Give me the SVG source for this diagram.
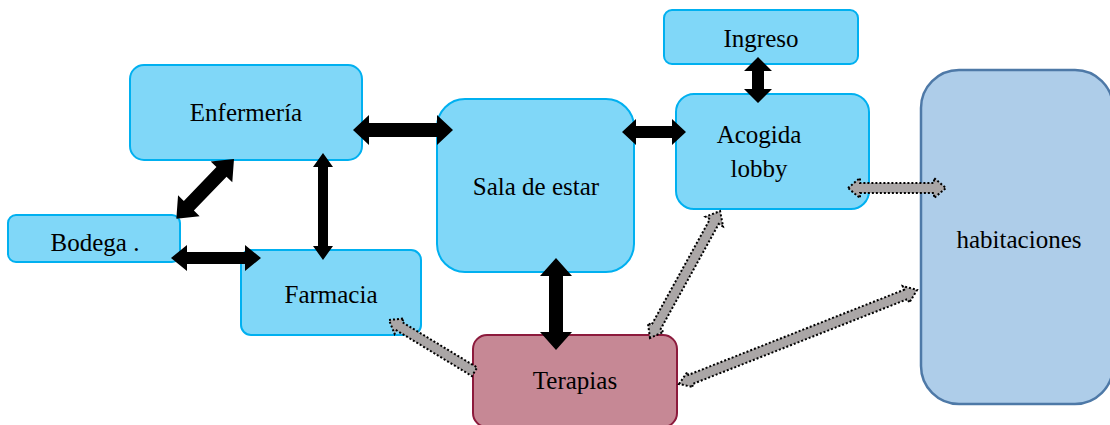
<svg xmlns="http://www.w3.org/2000/svg" width="1110" height="425" viewBox="0 0 1110 425">
<style>
.blue{fill:#80d7f8;stroke:#00b0f0;stroke-width:2}
.ter{fill:#c68895;stroke:#8c1a3c;stroke-width:2}
.hab{fill:#aecde9;stroke:#4e79a7;stroke-width:2.5}
.t{font-family:"Liberation Serif",serif;font-size:25px;fill:#000;text-anchor:middle}
.blk{fill:#000}
.gry{fill:#aaa6a6;stroke:#000;stroke-width:2;stroke-dasharray:2 2}
</style>
<rect width="1110" height="425" fill="#fff"/>
<g id="ingreso"><rect class="blue" x="664" y="10" width="194" height="54" rx="8"/><text class="t" x="761" y="47">Ingreso</text></g>
<g id="enfermeria"><rect class="blue" x="130" y="65" width="232" height="95" rx="14"/><text class="t" x="246" y="121">Enfermería</text></g>
<g id="sala"><rect class="blue" x="437" y="99" width="197" height="173" rx="28"/><text class="t" x="536" y="195">Sala de estar</text></g>
<g id="acogida"><rect class="blue" x="676" y="94" width="193" height="115" rx="18"/><text class="t" x="759" y="143">Acogida</text><text class="t" x="759" y="177">lobby</text></g>
<g id="bodega"><rect class="blue" x="8" y="215" width="172" height="47" rx="8"/><text class="t" x="95" y="251">Bodega .</text></g>
<g id="farmacia"><rect class="blue" x="241" y="250" width="180" height="85" rx="10"/><text class="t" x="331" y="303">Farmacia</text></g>
<g id="terapias"><rect class="ter" x="473" y="335" width="204" height="92" rx="14"/><text class="t" x="575" y="389">Terapias</text></g>
<g id="habitaciones"><rect class="hab" x="921" y="70" width="192" height="334" rx="38"/><text class="t" x="1019" y="248">habitaciones</text></g>
<g id="connectors">
<polygon class="blk" transform="translate(353,130)" points="0,0 16,-15 16,-7 84,-7 84,-15 100,0 84,15 84,7 16,7 16,15"/>
<polygon class="blk" transform="translate(622,132)" points="0,0 14,-13 14,-6 50,-6 50,-13 64,0 50,13 50,6 14,6 14,13"/>
<polygon class="blk" transform="translate(758,57) rotate(90)" points="0,0 14,-14 14,-6 32,-6 32,-14 46,0 32,14 32,6 14,6 14,14"/>
<polygon class="blk" transform="translate(323,153) rotate(90)" points="0,0 14,-10 14,-5 93,-5 93,-10 107,0 93,10 93,5 14,5 14,10"/>
<polygon class="blk" transform="translate(234,159) rotate(134)" points="0,0 18,-15 18,-7 65,-7 65,-15 83,0 65,15 65,7 18,7 18,15"/>
<polygon class="blk" transform="translate(171,258)" points="0,0 16,-13 16,-6 74,-6 74,-13 90,0 74,13 74,6 16,6 16,13"/>
<polygon class="blk" transform="translate(556,258) rotate(90)" points="0,0 18,-16 18,-7 74,-7 74,-16 92,0 74,16 74,7 18,7 18,16"/>
<polygon class="gry" transform="translate(848,188)" points="0,0 12,-10 12,-5 86,-5 86,-10 98,0 86,10 86,5 12,5 12,10"/>
<polygon class="gry" transform="translate(389,320) rotate(31.2)" points="0,0 12,-9 12,-5 100,-5 100,5 12,5 12,9"/>
<polygon class="gry" transform="translate(650,338) rotate(-61.1)" points="0,0 12,-9 12,-5 133,-5 133,-10 145,0 133,10 133,5 12,5 12,9"/>
<polygon class="gry" transform="translate(679,384) rotate(-21.55)" points="0,0 12,-8 12,-5 244,-5 244,-9 256,0 244,9 244,5 12,5 12,8"/>
</g>
</svg>
